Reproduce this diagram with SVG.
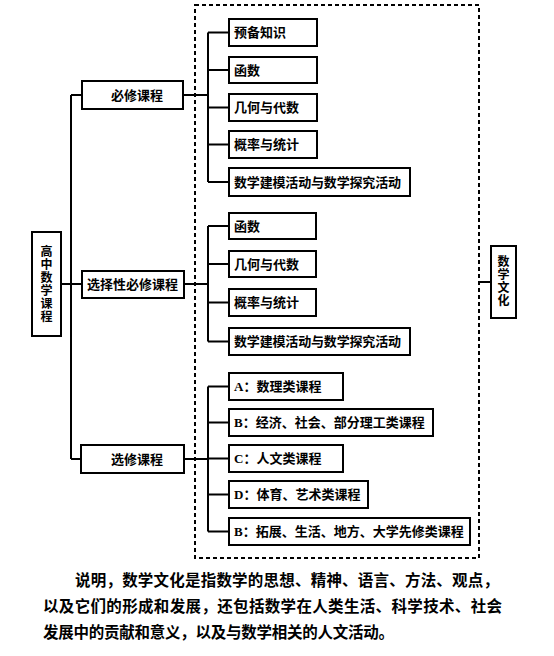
<svg xmlns="http://www.w3.org/2000/svg" width="554" height="656" viewBox="0 0 554 656">
<style>
.box{fill:#fff;stroke:#000;stroke-width:2}
.lbl{font-family:"Liberation Serif","Noto Sans CJK SC",serif;font-size:13px;font-weight:bold;fill:#000}
.vl{font-family:"Liberation Serif","Noto Sans CJK SC",serif;font-size:12px;font-weight:bold;fill:#000;text-anchor:middle}
.ln{stroke:#000;stroke-width:2;fill:none}
.dash{fill:none;stroke:#000;stroke-width:2;stroke-dasharray:4 3}
.cap{font-family:"Liberation Serif","Noto Sans CJK SC",serif;font-size:15.5px;font-weight:bold;fill:#000}
</style>
<rect width="554" height="656" fill="#fff"/>
<rect id="culture-frame" class="dash" x="195" y="5" width="284" height="553"/>
<g id="connectors">
<path class="ln" d="M61 284H82M71 95V459M71 95H82M71 459H81"/>
<path class="ln" d="M183 95H208M208 32.5V182M208 32.5H229M208 70H229M208 107.5H229M208 144.5H229M208 182H229"/>
<path class="ln" d="M184 284H208M208 226V341.5M208 226H229M208 264H229M208 302.5H229M208 341.5H229"/>
<path class="ln" d="M184 459H208M208 386.5V531.5M208 386.5H229M208 422.5H229M208 458.5H229M208 494.5H229M208 531.5H229"/>
<path class="ln" d="M479 282H491"/>
</g>
<g id="root"><rect class="box" x="32" y="232" width="29" height="104"/>
<text class="vl" x="46.5" y="256">高</text><text class="vl" x="46.5" y="269">中</text><text class="vl" x="46.5" y="282">数</text><text class="vl" x="46.5" y="295">学</text><text class="vl" x="46.5" y="308">课</text><text class="vl" x="46.5" y="321">程</text></g>
<g id="bixiu"><rect class="box" x="82" y="81" width="101" height="28"/><text class="lbl" x="111" y="100">必修课程</text></g>
<g id="xuanzexing"><rect class="box" x="82" y="271" width="102" height="27"/><text class="lbl" x="87" y="289">选择性必修课程</text></g>
<g id="xuanxiu"><rect class="box" x="81" y="445" width="103" height="28"/><text class="lbl" x="111" y="464">选修课程</text></g>
<g id="b1"><rect class="box" x="229" y="19" width="88" height="27"/><text class="lbl" x="234" y="37">预备知识</text></g>
<g id="b2"><rect class="box" x="229" y="57" width="88" height="26"/><text class="lbl" x="234" y="74.5">函数</text></g>
<g id="b3"><rect class="box" x="229" y="94" width="88" height="27"/><text class="lbl" x="234" y="112">几何与代数</text></g>
<g id="b4"><rect class="box" x="229" y="131" width="88" height="27"/><text class="lbl" x="234" y="149">概率与统计</text></g>
<g id="b5"><rect class="box" x="229" y="168" width="181" height="28"/><text class="lbl" x="234" y="186.5" textLength="167">数学建模活动与数学探究活动</text></g>
<g id="s1"><rect class="box" x="229" y="213" width="87" height="26"/><text class="lbl" x="234" y="230.5">函数</text></g>
<g id="s2"><rect class="box" x="229" y="251" width="87" height="26"/><text class="lbl" x="234" y="268.5">几何与代数</text></g>
<g id="s3"><rect class="box" x="229" y="289" width="87" height="27"/><text class="lbl" x="234" y="307">概率与统计</text></g>
<g id="s4"><rect class="box" x="229" y="328" width="181" height="27"/><text class="lbl" x="234" y="346" textLength="167">数学建模活动与数学探究活动</text></g>
<g id="x1"><rect class="box" x="229" y="373" width="114" height="27"/><text class="lbl" x="234" y="391">A：数理类课程</text></g>
<g id="x2"><rect class="box" x="229" y="409" width="204" height="27"/><text class="lbl" x="234" y="427">B：经济、社会、部分理工类课程</text></g>
<g id="x3"><rect class="box" x="229" y="445" width="114" height="27"/><text class="lbl" x="234" y="463">C：人文类课程</text></g>
<g id="x4"><rect class="box" x="229" y="481" width="139" height="27"/><text class="lbl" x="234" y="499">D：体育、艺术类课程</text></g>
<g id="x5"><rect class="box" x="229" y="518" width="241" height="27"/><text class="lbl" x="234" y="536">B：拓展、生活、地方、大学先修类课程</text></g>
<g id="culture"><rect class="box" x="491" y="246" width="25" height="72"/>
<text class="vl" x="503.5" y="266">数</text><text class="vl" x="503.5" y="279">学</text><text class="vl" x="503.5" y="292">文</text><text class="vl" x="503.5" y="305">化</text></g>
<g id="caption">
<text class="cap" x="75" y="586" textLength="424">说明，数学文化是指数学的思想、精神、语言、方法、观点，</text>
<text class="cap" x="43" y="612" textLength="459">以及它们的形成和发展，还包括数学在人类生活、科学技术、社会</text>
<text class="cap" x="43" y="638" textLength="351">发展中的贡献和意义，以及与数学相关的人文活动。</text>
</g>
</svg>
